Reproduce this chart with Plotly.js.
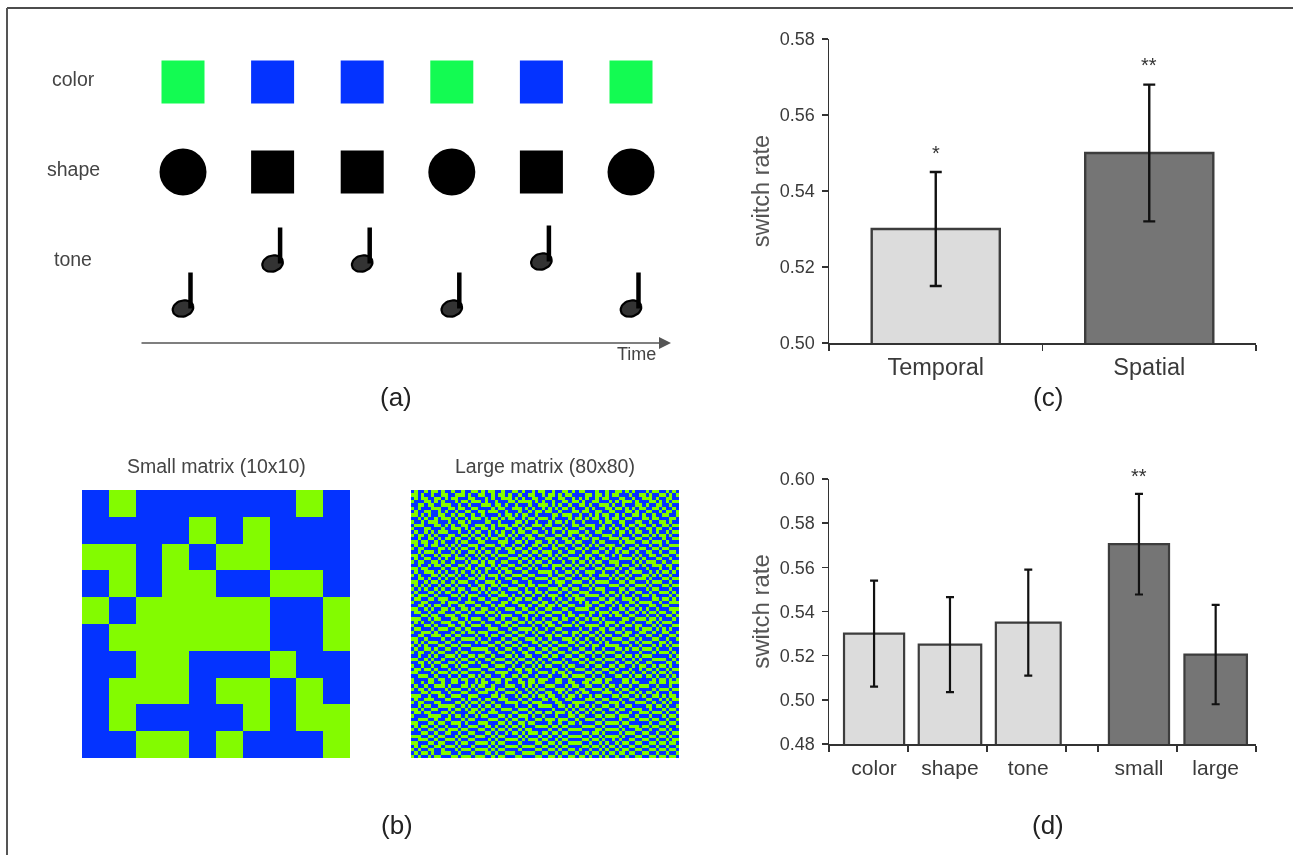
<!DOCTYPE html>
<html><head><meta charset="utf-8">
<script src="https://cdn.plot.ly/plotly-3.0.1.min.js"></script>
<style>html,body{margin:0;padding:0;background:#fff}#plot{width:1293px;height:855px;filter:blur(.45px)}</style>
</head><body><div id="plot"></div>
<script>
// ---------- data ----------
const sequenceColor = ['green','blue','blue','green','blue','green'];
const sequenceShape = ['circle','square','square','circle','square','circle'];
const sequenceTone  = ['low','high','high','low','top','low'];

const temporalSpatialNames = ['Temporal','Spatial'];
const temporalSpatialRates = [0.530,0.550];
const temporalSpatialErrs  = [0.015,0.018];
const temporalSpatialStars = ['*','**'];

const featureNames = ['color','shape','tone','small','large'];
const featureRates = [0.530,0.525,0.535,0.5705,0.5205];
const featureErrs  = [0.024,0.0215,0.024,0.0228,0.0225];
const featureStars = ['','','','**',''];

const smallMatrix = [
 '0100000010',
 '0000101000',
 '1101011000',
 '0101100110',
 '1011111001',
 '0111111001',
 '0011000100',
 '0111011010',
 '0100001011',
 '0011010001'];

// estimated by eye from the 80x80 panel; individual cells are approximate
const largeMatrix = [
 '0100101101 0010010011 0101100100 1101001011 0010011010 1100010010 0110101000 1011001010',
 '1101001001 1001110100 1100101101 0010011001 0110101100 0011011010 1100010011 0100110101',
 '0101100110 1011000110 0010100111 0101001100 1100110010 1010010110 0011001001 1101001100',
 '1000110101 0001011011 1010010001 1011110101 0010011011 0100110001 0101110100 0110101011',
 '0011011001 1100100100 0111011010 0100010011 1010100100 1101001110 1001000110 1001100100',
 '1010001110 0110110011 0000101100 1110101001 0101011010 0010100011 0110101011 0011010010',
 '0100110010 1001001100 1101110010 0010010110 1100100011 0110011001 1000110100 1100101101',
 '1101010011 0010110010 0100001011 0101100100 0011011100 1001010110 0101001101 0010011001',
 '0010100101 1101001011 1010110101 1001011011 1010000101 1010110010 1100110001 1011000110',
 '1001011100 0100110100 0011001000 0110100100 0101101010 0100001011 0011000110 0100110100',
 '0111000110 1010011001 1100101110 1101001110 1100010011 0011100100 1001011011 0010011011',
 '1000110001 0011101010 0110100011 0010110001 0011101000 1100101101 0100100100 1101100100',
 '0100101011 1000100101 1001010100 1011001100 1010010111 0010011000 1011010110 0101001011',
 '1011010100 0110011010 0101001101 0100110011 0001100100 1101000111 0010001001 1010110100',
 '0010011010 1101100101 1010110010 1001011000 1110011010 0110110001 1101100110 0100010011',
 '1101100101 0001011000 1100001110 0110100110 0101001101 1000101100 0010111001 1011101000',
 '0100101100 1010100111 0011100100 1001001101 1010110010 0101010011 1001000100 0100100111',
 '1011000011 0101011001 0100011011 0110010010 0011001001 1010001101 0110011011 0011011000',
 '0010111010 0010100110 1011010001 1001101101 1100100110 0100110010 0101100100 1100100110',
 '1101000101 1101001001 0100101110 0010010010 0101011000 1011001100 1010001010 0110011001',
 '0100110010 1001110100 1010010001 1101101001 1010100111 0010100110 0011110101 0001100100',
 '1011001101 0010001011 0101100110 0010010110 0100010010 1101011001 1100001010 1110010011',
 '0010010110 1100110100 1100101001 1001101001 1011101101 0010100100 0101100101 0011101100',
 '1101100001 0011001101 0011010110 0110010100 0010010010 1100011011 1010011000 1000100101',
 '0100111010 1001010010 1010001011 0001100011 1101001101 0011100100 0100101110 0101011010',
 '1010001101 0110101001 0101110100 1110011000 0100110010 1001001110 1011010001 1010100100',
 '0011010010 1001000110 1100010011 0001100111 1011001100 0110100001 0100100111 0100011011',
 '1100101101 0010111001 0011101000 1100010000 0101110011 1001011110 0011011000 1011100100',
 '0101010010 1101000100 1100110110 0011011011 1000100100 0110100001 1100100111 0100011011',
 '1010100101 0010110011 0101001001 1100100100 0111011011 0001011100 0011011000 1011000100',
 '0100011010 1100101000 1010110100 0010110110 1000100100 1110000101 1010100110 0100111010',
 '1011100100 0011010111 0001001110 1001001001 0111001011 0011110010 0101001001 1010000101',
 '0110011011 1000100100 1100110001 0110110010 0010100101 1100001101 1001110100 0011011010',
 '1001100001 0111001110 0011000110 1100001101 1001011000 1010110011 0100011011 1100100111',
 '0011010110 0100110001 1000101100 0011010011 0110100110 0011001100 1010100100 0110011000',
 '1100101001 1010011010 0110010011 1001100100 1100011001 1110010001 0011011010 1001000111',
 '0110010011 0001100101 1101101000 0110011011 0011100100 0001101110 1100100101 0110110010',
 '0001101100 1110011000 0010010111 0001100100 1100010110 1101001001 0110011000 1001001101',
 '1110010110 0011001011 1001100100 1100101001 0011011001 0010110100 0001100111 0110100010',
 '0101001001 1100110100 0100011011 0011010110 1100100010 1100001011 1011001000 1101011100',
 '1000110100 0110010011 1011000110 1100001001 0110011101 0011110010 0100110110 0010100011',
 '0110001011 1001101100 0001110001 0011110100 1001100000 1001001101 1001000101 1101010100',
 '1001110100 0010010110 1110001100 1100101011 0010011011 0110010100 0110110011 0010011001',
 '0011001110 1101100001 0010110011 0011000100 1101100010 1001101011 0001100100 1100100110',
 '1100100001 0010011110 1001000100 1100111010 0100011101 0010010100 1110011010 0011001001',
 '0101011100 1100100001 0110011011 0010001101 1011000110 1101001010 0001100101 1100110100',
 '1010100011 0011011100 0001100100 1101100010 0100111001 0010110011 1100010010 0010101011',
 '0100110100 1100100011 1110010011 0010011001 1011000100 1100100100 0110101101 1101000100',
 '1011001011 0001011000 0011001100 1001100110 0100110011 0011011011 1001000010 0010111010',
 '0010010100 1110100110 1100100011 0100110001 1011001100 1100100100 0110110101 1100000101',
 '1100101001 0001011001 0011011100 1011001010 0100010011 0010011011 1001001010 0011110010',
 '0011010110 0110100110 1000100011 0100110101 0011101000 1101100100 0100110100 1100001101',
 '1001001001 1001011000 0110011100 1001001010 1100010110 0010011001 1011001011 0010110100',
 '0110110100 0100100111 1001100001 0110110100 0011001001 1100100110 0100010010 1101001011',
 '1100001011 1011011000 0100011110 0010010011 1010110100 0011011001 1001101001 0010110100',
 '0011100100 0100100110 1011000100 1101100100 0100011011 1100100100 0110010110 1101001010',
 '1000011011 0011011001 0100111011 0010011011 1001100100 0011011011 0001101000 0010110101',
 '1001011001 0011001001 0110011010 0011011011 0001100110 0110111010 0001101100 0110110111',
 '0100100111 0100011010 1100100011 1001010100 1110001011 0011000101 1010010011 1001000100',
 '1011010000 1011100101 0011101100 0100101011 0001110100 1100111010 0101100100 0010111011',
 '0001101110 0100011000 1110010011 1010010100 1100101001 0110000111 0010011010 1101000100',
 '1110010011 0011100111 0000110100 0101101011 0110010110 1001011000 1101100101 0011010110',
 '0100111000 1100010100 1011001110 0010010001 1011001100 0011100110 0010011000 1100101011',
 '1011000110 0001101011 0100100011 1101101110 0001100011 1100011001 1101000111 0010010100',
 '0010110011 1110010100 1011011000 0100010011 1100110101 0010100110 0100110000 1101101001',
 '1101001100 0101101011 0100100111 0011101000 0010001010 1101011001 1011001110 0100010110',
 '0110110001 1010000110 1001110000 1100010110 1101110101 0010100100 0100010011 1011101001',
 '1000011110 0101101001 0110001101 0011101001 0001000110 1100011011 1011100100 0100010110',
 '0011100100 1100010110 0001110010 1100100110 1110111001 0011100100 0010011011 1011001001',
 '1100011011 0011101000 1110001101 0011011000 0100100110 1000011011 1101100000 0100110110',
 '0101100100 1000100111 0011010010 1101000111 1011011000 0111100100 0010011101 1011001001',
 '1010011011 0111011000 1100101101 0010110000 0100100111 1000011011 1101000110 0100110100',
 '0001100100 1100100110 0011010010 1101011101 1011011000 0110110100 0010111001 1001001011',
 '1110011011 0001011001 1100101100 0010100010 0100100111 1001001011 1101000110 0110110100',
 '0011100100 1110100110 0001010011 1101011101 1001011000 0110110100 1010011001 1001001011',
 '1100011011 0001011001 1110101100 0010000110 0110100111 1001001010 0101100110 0110110110',
 '0101100110 1110100010 0001010011 1101111001 1001011000 0110110101 1010011001 1001001001',
 '1010011001 0001011101 1110101100 0010000110 0110100110 1001001010 0101100110 0110110110',
 '0101101001 1100100010 0011010011 1001111001 1001011001 0010110101 1011011001 1001001001',
 '1010010110 0011011101 1100101100 0110000110 0110100110 1101001010 0100100110 0110110110'];

// ---------- colours and layout constants ----------
const W = 1293, H = 855;
const BLUE = '#0433ff', GREEN_M = '#83fb00', GREEN_S = '#13fb52';
const LIGHT = '#dcdcdc', DARK = '#757575', EDGE = '#3d3d3d', INK = '#444';
const FONT = 'Liberation Sans, Arial, sans-serif';
const px = (a,b) => [a/W, b/W];
const py = (a,b) => [1-b/H, 1-a/H];
const cell = s => s.replace(/\s/g,'').split('').map(Number);

const colorRow = 82, shapeRow = 172;
const pitch = {low:308.5, high:263.5, top:261.5};
const noteA = 10.5, noteB = 8, noteTilt = -0.3, stemDx = 7.5, stemH = 36;
const slotPx = 89.6;

const traces = [];

traces.push({type:'scatter', mode:'markers', xaxis:'x', yaxis:'y', hoverinfo:'skip',
  x: sequenceColor.map((_,i)=>i), y: sequenceColor.map(()=>colorRow),
  marker:{symbol:'square', size:43, opacity:1, color:sequenceColor.map(c=>c==='green'?GREEN_S:BLUE), line:{width:0}}});
traces.push({type:'scatter', mode:'markers', xaxis:'x', yaxis:'y', hoverinfo:'skip',
  x: sequenceShape.map((_,i)=>i), y: sequenceShape.map(()=>shapeRow),
  marker:{symbol:sequenceShape, size:sequenceShape.map(s=>s==='circle'?47:43), opacity:1, color:'#000', line:{width:0}}});
const headX=[], headY=[], stemX=[], stemY=[];
sequenceTone.forEach((tone,i)=>{
  const cx=i, cy=pitch[tone];
  for(let k=0;k<=36;k++){
    const a=k/36*2*Math.PI, ex=noteA*Math.cos(a), ey=noteB*Math.sin(a);
    headX.push(cx+(ex*Math.cos(noteTilt)-ey*Math.sin(noteTilt))/slotPx);
    headY.push(cy+ex*Math.sin(noteTilt)+ey*Math.cos(noteTilt));
  }
  headX.push(null); headY.push(null);
  stemX.push(cx+stemDx/slotPx, cx+stemDx/slotPx, null);
  stemY.push(cy, cy-stemH, null);
});
traces.push({type:'scatter', mode:'lines', xaxis:'x', yaxis:'y', hoverinfo:'skip', x:headX, y:headY,
  fill:'toself', fillcolor:'#333', line:{color:'#000', width:2.2}});
traces.push({type:'scatter', mode:'lines', xaxis:'x', yaxis:'y', hoverinfo:'skip', x:stemX, y:stemY,
  line:{color:'#000', width:4.5}});

const scale=[[0,BLUE],[1,GREEN_M]];
traces.push({type:'heatmap', xaxis:'x2', yaxis:'y2', z:smallMatrix.map(cell), colorscale:scale, zmin:0, zmax:1, showscale:false, hoverinfo:'skip'});
traces.push({type:'heatmap', xaxis:'x3', yaxis:'y3', z:largeMatrix.map(cell), colorscale:scale, zmin:0, zmax:1, showscale:false, hoverinfo:'skip'});

traces.push({type:'bar', xaxis:'x4', yaxis:'y4', x:temporalSpatialNames, y:temporalSpatialRates, width:0.6,
  marker:{color:[LIGHT,DARK], line:{color:EDGE, width:2.4}},
  error_y:{type:'data', array:temporalSpatialErrs, visible:true, color:'#111', thickness:2.4, width:6}, hoverinfo:'skip'});

const featureX = [0.57,1.53,2.52,3.92,4.89];
const featureW = [0.76,0.79,0.82,0.76,0.79];
const featureTicks = [0,1,2,3,3.4,4.4,5.4];
traces.push({type:'bar', xaxis:'x5', yaxis:'y5', x:featureX, y:featureRates, width:featureW,
  marker:{color:[LIGHT,LIGHT,LIGHT,DARK,DARK], line:{color:EDGE, width:2.2}},
  error_y:{type:'data', array:featureErrs, visible:true, color:'#111', thickness:2.2, width:4}, hoverinfo:'skip'});

const hidden = {visible:false, fixedrange:true};
const axLine = {showline:true, linecolor:'#333', linewidth:1.5, ticks:'outside', tickcolor:'#333', tickwidth:1.5, ticklen:6, showgrid:false, zeroline:false, fixedrange:true};
const tickFont = {family:FONT, size:18, color:'#3a3a3a'};

const note = (text,x,y,size,color) => ({text, x:x/W, y:1-y/H, xref:'paper', yref:'paper', showarrow:false, xanchor:'center', yanchor:'middle', font:{family:FONT, size, color:color||INK}});

const annotations = [
  note('color',73,79,19.5), note('shape',73,169,19.5), note('tone',73,259,19.5),
  note('Time',636,354,18),
  note('(a)',396,397,26,'#222'), note('(b)',397,825,26,'#222'), note('(c)',1048,397,26,'#222'), note('(d)',1048,825,26,'#222'),
  note('Small matrix (10x10)',216,466,19.5), note('Large matrix (80x80)',545,466,19.5),
  {x:671/W, y:1-343/H, ax:140/W, ay:1-343/H, xref:'paper', yref:'paper', axref:'paper', ayref:'paper', text:'', showarrow:true, arrowhead:2, arrowsize:1.6, arrowwidth:1.5, arrowcolor:'#555'}
];
temporalSpatialNames.forEach((n,i)=>annotations.push({xref:'x4', yref:'y4', x:n, y:temporalSpatialRates[i]+temporalSpatialErrs[i], yshift:i?20:19, text:temporalSpatialStars[i], showarrow:false, font:{family:FONT, size:20, color:'#333'}}));
featureStars.forEach((s,i)=>{ if(s) annotations.push({xref:'x5', yref:'y5', x:featureX[i], y:featureRates[i]+featureErrs[i], yshift:18, text:s, showarrow:false, font:{family:FONT, size:20, color:'#333'}}); });

const layout = {
  width:W, height:H, margin:{l:0,r:0,t:0,b:0}, paper_bgcolor:'#fff', plot_bgcolor:'rgba(0,0,0,0)', showlegend:false, bargap:0,
  xaxis:Object.assign({domain:px(140,671), range:[(140-183)/slotPx,(671-183)/slotPx]},hidden),
  yaxis:Object.assign({domain:py(40,343), range:[343,40]},hidden),
  xaxis2:Object.assign({domain:px(82,350), range:[-0.5,9.5]},hidden),
  yaxis2:Object.assign({domain:py(490,758), range:[9.5,-0.5]},hidden),
  xaxis3:Object.assign({domain:px(411,679), range:[-0.5,79.5]},hidden),
  yaxis3:Object.assign({domain:py(490,758), range:[79.5,-0.5]},hidden),
  xaxis4:Object.assign({},axLine,{domain:px(829,1256), type:'category', categoryorder:'array', categoryarray:temporalSpatialNames, range:[-0.5,1.5], tickson:'boundaries', tickfont:{family:FONT,size:23.5,color:'#3a3a3a'}, ticklabelstandoff:2}),
  yaxis4:Object.assign({},axLine,{domain:py(39,343), range:[0.5,0.58], tickvals:[0.5,0.52,0.54,0.56,0.58], tickformat:'.2f', tickfont:tickFont, ticklabelstandoff:3, title:{text:'switch rate', font:{family:FONT,size:23.5,color:'#555'}, standoff:3}, anchor:'x4'}),
  xaxis5:Object.assign({},axLine,{domain:px(829,1256), range:[0,5.4], tickmode:'array', tickvals:featureX, ticktext:featureNames, ticks:'', tickfont:{family:FONT,size:21,color:'#3a3a3a'}, ticklabelstandoff:4, minor:{tickmode:'array', tickvals:featureTicks, ticks:'outside', ticklen:6, tickwidth:1.5, tickcolor:'#333', showgrid:false}, anchor:'y5'}),
  yaxis5:Object.assign({},axLine,{domain:py(479,744), range:[0.48,0.60], tickvals:[0.48,0.50,0.52,0.54,0.56,0.58,0.60], tickformat:'.2f', tickfont:tickFont, ticklabelstandoff:3, title:{text:'switch rate', font:{family:FONT,size:24,color:'#555'}, standoff:3}, anchor:'x5'}),
  annotations,
  shapes:[
    {type:'line', xref:'paper', yref:'paper', x0:7/W, x1:1, y0:1-8/H, y1:1-8/H, line:{color:'#111', width:1.5}},
    {type:'line', xref:'paper', yref:'paper', x0:7/W, x1:7/W, y0:0, y1:1-8/H, line:{color:'#555', width:2}}
  ]
};
Plotly.newPlot('plot', traces, layout, {staticPlot:true, displayModeBar:false});
</script></body></html>
